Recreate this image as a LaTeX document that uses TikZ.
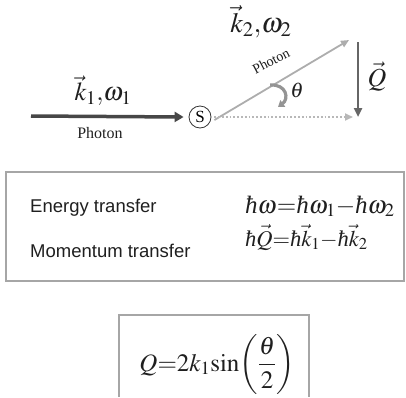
\documentclass[tikz,border=0pt]{standalone}
\usepackage{mathptmx}
\usepackage{fontspec}
\setmainfont{Liberation Serif}
\newfontfamily\sansf{Liberation Sans}
\usetikzlibrary{arrows.meta}
\newcommand{\hb}{\mbox{\itshape ħ}}
\newcommand{\fs}[1]{\fontsize{#1}{#1}\selectfont}
\begin{document}
\begin{tikzpicture}[x=1pt,y=-1pt,
  incoming/.style={draw=black!72,line width=3.5pt,-{Triangle[length=9pt,width=10pt]}},
  scat/.style={draw=black!32,line width=1.8pt,-{Triangle[length=8pt,width=7pt]}},
  dots/.style={draw=black!28,line width=1.8pt,dotted,-{Triangle[length=8pt,width=7pt]}},
  qarr/.style={draw=black!60,line width=2.6pt,-{Triangle[length=9pt,width=8pt]}},
  tharr/.style={draw=black!42,line width=3.2pt,-{Triangle[length=6pt,width=8pt]}},
  lbl/.style={inner sep=0pt,text=black!88},
  boxst/.style={draw=black!35,line width=1.5pt}]
\useasboundingbox (0,0) rectangle (406,397);
% --- scattering diagram
\node[circle,draw=black!80,line width=0.8pt,inner sep=0pt,minimum size=22pt,font=\fs{17}] (S) at (200,117) {S};
\coordinate (inA) at (31,116);
\coordinate (scEnd) at (349,40);
\coordinate (dotEnd) at (353,117);
\coordinate (Qtop) at (358,42);
\coordinate (Qbot) at (358,117);
\draw[incoming] (inA) -- ([xshift=-5pt]S.west);
\draw[scat] ([shift={(3pt,-3pt)}]S.east) -- (scEnd);
\draw[dots] ([xshift=3pt]S.east) -- (dotEnd);
\draw[qarr] (Qtop) -- (Qbot);
\coordinate (thA) at (270,85);
\coordinate (thB) at (278,107);
\draw[tharr] (thA) .. controls (287,84) and (289,99) .. (thB);
% labels
\node[lbl,font=\fs{26}] (k1) at (103,91) {$\vec{k}_1{,}\omega_1$};
\node[lbl,font=\fs{16}] (ph1) at (100,133) {Photon};
\node[lbl,font=\fs{28}] (k2) at (261,22) {$\vec{k}_2{,}\omega_2$};
\node[lbl,font=\fs{14},rotate=27.6] (ph2) at (271,61) {Photon};
\node[lbl,font=\fs{21}] (th) at (297,90) {$\theta$};
\node[lbl,font=\fs{26}] (Ql) at (377,77) {$\vec{Q}$};
% --- transfer box
\node[boxst,minimum width=398pt,minimum height=109pt,inner sep=0pt] (box) at (205,226.5) {};
\node[lbl,anchor=base west,font=\sansf\fs{18.5}] (en) at (30,212) {Energy transfer};
\node[lbl,anchor=base west,font=\sansf\fs{18.5}] (mo) at (30,257) {Momentum transfer};
\node[lbl,anchor=base west,font=\fs{25}] (f1) at (245,213) {$\hb\omega{=}\hb\omega_1{-}\hb\omega_2$};
\node[lbl,anchor=base west,font=\fs{22.5}] (f2) at (245,246) {$\hb\vec{Q}{=}\hb\vec{k}_1{-}\hb\vec{k}_2$};
% --- bottom box
\draw[boxst] (119,397) -- (119,315) -- (309,315) -- (309,397);
\node[lbl,anchor=base,font=\fs{25}] (qf) at (217,371) {$\displaystyle Q{=}2k_1\mathrm{sin}\!\left(\frac{\theta}{2}\right)$};
\end{tikzpicture}
\end{document}
